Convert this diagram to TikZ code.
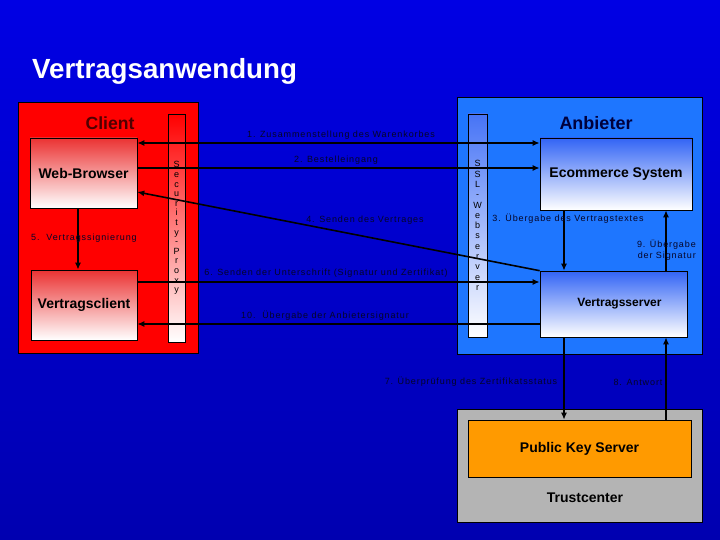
\documentclass[tikz,border=0pt]{standalone}
\usepackage{fontspec}
\setmainfont{Liberation Sans}
\newfontfamily\lblfont[LetterSpace=10]{Liberation Sans}
\usetikzlibrary{arrows.meta,calc}
\definecolor{bgtop}{RGB}{0,0,228}
\definecolor{bgbot}{RGB}{0,0,176}
\definecolor{anbblue}{RGB}{30,118,255}
\definecolor{redtop}{RGB}{235,50,50}
\definecolor{bluetop}{RGB}{50,100,245}
\definecolor{lbltext}{RGB}{5,5,40}
\definecolor{clienttxt}{RGB}{80,0,0}
\definecolor{anbtxt}{RGB}{0,0,60}
\definecolor{tcgray}{RGB}{180,180,180}
\definecolor{pksorange}{RGB}{255,154,0}
\tikzset{
  box/.style={draw=black, line width=0.6pt, inner sep=0pt},
  redbox/.style={box, top color=redtop, bottom color=white},
  bluebox/.style={box, top color=bluetop, bottom color=white},
  barred/.style={box, top color=red, bottom color=white, align=center,
    font=\fontsize{9}{9.6}\selectfont},
  barblue/.style={box, top color=bluetop!90, bottom color=white, align=center,
    font=\fontsize{9}{10.3}\selectfont},
  bigtxt/.style={font=\fontsize{14}{16}\selectfont\bfseries, text=black},
  lbl/.style={font=\lblfont\fontsize{9}{11}\selectfont, text=lbltext, inner sep=0pt},
  arr/.style={line width=1.6pt, draw=black, -{Latex[length=7pt,width=6pt]}},
  arrb/.style={line width=1.6pt, draw=black, {Latex[length=7pt,width=6pt]}-{Latex[length=7pt,width=6pt]}},
}
\begin{document}
\begin{tikzpicture}[x=1pt,y=-1pt]
\shade[top color=bgtop, bottom color=bgbot] (0,0) rectangle (720,540);
\useasboundingbox (0,0) rectangle (720,540);

\node[anchor=base west, inner sep=0pt, text=white, font=\fontsize{27.7}{30}\selectfont\bfseries] (title) at (32,79) {Vertragsanwendung};

% Client side
\node[box, fill=red, minimum width=180pt, minimum height=251pt] (client) at (108,227.5) {};
\node[font=\fontsize{17.6}{20}\selectfont\bfseries, text=clienttxt] (clientlbl) at (110,123) {Client};
\node[barred, minimum width=17pt, minimum height=228pt] (proxy) at (176.5,228) {S\\e\\c\\u\\r\\i\\t\\y\\-\\P\\r\\o\\x\\y};
\node[redbox, minimum width=107pt, minimum height=70pt, bigtxt] (wb) at (83.5,173) {Web-Browser};
\node[redbox, minimum width=106pt, minimum height=70pt, bigtxt] (vc) at (84,305) {Vertragsclient};

% Anbieter side
\node[box, fill=anbblue, minimum width=245pt, minimum height=257pt] (anb) at (579.5,225.5) {};
\node[font=\fontsize{18}{20}\selectfont\bfseries, text=anbtxt] (anblbl) at (596,123) {Anbieter};
\node[barblue, minimum width=19pt, minimum height=223pt] (ssl) at (477.5,225.5) {S\\S\\L\\-\\W\\e\\b\\s\\e\\r\\v\\e\\r};
\node[bluebox, minimum width=152pt, minimum height=72pt, bigtxt] (eco) at (616,174) {Ecommerce System};
\node[bluebox, minimum width=147pt, minimum height=66pt, font=\fontsize{12}{14}\selectfont\bfseries, text=black] (vs) at (613.5,304) {\hspace*{12pt}Vertragsserver};

% Trustcenter
\node[box, fill=tcgray, minimum width=245pt, minimum height=113pt] (tc) at (579.5,465.5) {};
\node[box, fill=pksorange, minimum width=223pt, minimum height=57pt, bigtxt] (pks) at (579.5,448.5) {Public Key Server};
\node[bigtxt] (tclbl) at (585,498) {Trustcenter};

% connectors
\draw[arrb] (wb.east |- 0,143) -- (eco.west |- 0,143);
\draw[arr] (wb.east |- 0,168) -- (eco.west |- 0,168);
\draw[arr] (vs.north west) -- (wb.east |- 0,192);
\draw[arr] (vc.east |- 0,282) -- (vs.west |- 0,282);
\draw[arr] (vs.west |- 0,324) -- (vc.east |- 0,324);
\draw[arr] (wb.south -| 78,0) -- (vc.north -| 78,0);
\draw[arr] (eco.south -| 564,0) -- (vs.north -| 564,0);
\draw[arr] (vs.north -| 666,0) -- (eco.south -| 666,0);
\draw[arr] (vs.south -| 564,0) -- (pks.north -| 564,0);
\draw[arr] (pks.north -| 666,0) -- (vs.south -| 666,0);

% labels
\node[lbl] (l1) at (341,135) {1. Zusammenstellung des Warenkorbes};
\node[lbl] (l2) at (336,160) {2. Bestelleingang};
\node[lbl] (l4) at (365,220) {4. Senden des Vertrages};
\node[lbl] (l6) at (326,273) {6. Senden der Unterschrift (Signatur und Zertifikat)};
\node[lbl] (l10) at (325,316) {10.\ \ Übergabe der Anbietersignatur};
\node[lbl, anchor=west] (l5) at (31,238) {5.\ \ Vertragssignierung};
\node[lbl] (l3) at (568,219) {3. Übergabe des Vertragstextes};
\node[lbl, align=right, anchor=east] (l9) at (696,250) {9. Übergabe\\der Signatur};
\node[lbl] (l7) at (471,382) {7. Überprüfung des Zertifikatsstatus};
\node[lbl] (l8) at (638,382) {8. Antwort};
\end{tikzpicture}
\end{document}
